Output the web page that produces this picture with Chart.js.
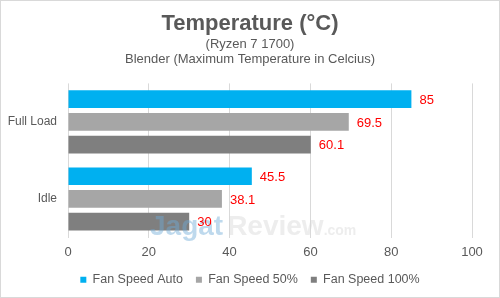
<!DOCTYPE html>
<html><head><meta charset="utf-8">
<script src="https://cdn.jsdelivr.net/npm/chart.js@4/dist/chart.umd.min.js"></script>
<style>html,body{margin:0;padding:0;background:#fff}#w{width:500px;height:298px;position:relative}</style>
</head><body><div id="w"><canvas id="c" width="500" height="298"></canvas></div>
<script>
const categories = ["Full Load", "Idle"];
const seriesNames = ["Fan Speed Auto", "Fan Speed 50%", "Fan Speed 100%"];
const fanAuto = [85, 45.5];
const fan50 = [69.5, 38.1];
const fan100 = [60.1, 30];
const xTicks = [0, 20, 40, 60, 80, 100];
const colors = ["#00B0F0", "#A6A6A6", "#7F7F7F"];
const FONT = "'Liberation Sans', Arial, sans-serif";
const TXT = "#595959";

const frame = {
  id: 'frame',
  beforeDraw(chart) {
    const ctx = chart.ctx;
    ctx.save();
    ctx.fillStyle = '#fff';
    ctx.fillRect(0, 0, chart.width, chart.height);
    ctx.strokeStyle = '#d9d9d9';
    ctx.lineWidth = 1;
    ctx.strokeRect(0.5, 0.5, chart.width - 1, chart.height - 1);
    ctx.restore();
  }
};
const watermark = {
  id: 'watermark',
  afterDatasetsDraw(chart) {
    const ctx = chart.ctx;
    ctx.save();
    ctx.font = "bold 28px " + FONT;
    ctx.textBaseline = 'alphabetic';
    ctx.fillStyle = 'rgba(110,170,215,0.45)';
    ctx.fillText('Jagat', 150, 235);
    const w = ctx.measureText('Jagat').width + 4;
    ctx.fillStyle = 'rgba(215,215,215,0.45)';
    ctx.fillText('Review', 150 + w, 235);
    const w2 = ctx.measureText('Review').width;
    ctx.font = "bold 14px " + FONT;
    ctx.fillText('.com', 150 + w + w2, 235);
    ctx.restore();
  }
};
const valueLabels = {
  id: 'valueLabels',
  afterDatasetsDraw(chart) {
    const ctx = chart.ctx;
    ctx.save();
    ctx.font = "13px " + FONT;
    ctx.fillStyle = '#FF0000';
    ctx.textBaseline = 'middle';
    ctx.textAlign = 'left';
    chart.data.datasets.forEach((ds, i) => {
      chart.getDatasetMeta(i).data.forEach((bar, j) => {
        ctx.fillText(String(ds.data[j]), bar.x + 8, bar.y + 1);
      });
    });
    ctx.restore();
  }
};

new Chart(document.getElementById('c'), {
  type: 'bar',
  data: {
    labels: categories,
    datasets: [
      { label: seriesNames[0], data: fanAuto, backgroundColor: colors[0] },
      { label: seriesNames[1], data: fan50, backgroundColor: colors[1] },
      { label: seriesNames[2], data: fan100, backgroundColor: colors[2] }
    ]
  },
  options: {
    indexAxis: 'y',
    responsive: false,
    animation: false,
    layout: { padding: { left: 0, right: 0, top: 0, bottom: 2 } },
    datasets: { bar: { categoryPercentage: 0.885, barPercentage: 0.78 } },
    scales: {
      x: {
        min: 0, max: 100,
        afterBuildTicks(scale) { scale.ticks = xTicks.map(v => ({ value: v })); },
        afterFit(scale) { scale.height = 23; },
        grid: { color: '#d9d9d9', drawTicks: false },
        border: { display: false },
        ticks: { color: TXT, font: { family: FONT, size: 13 }, padding: 7 }
      },
      y: {
        afterFit(scale) { scale.width = 68; },
        grid: { display: false, drawTicks: false },
        border: { display: false },
        ticks: { color: TXT, font: { family: FONT, size: 12 }, padding: 11 }
      },
      yRight: {
        type: 'category', axis: 'y', position: 'right',
        afterFit(scale) { scale.width = 28; },
        grid: { display: false, drawTicks: false },
        border: { display: false },
        ticks: { display: false }
      }
    },
    plugins: {
      title: {
        display: true, text: 'Temperature (°C)', color: TXT,
        font: { family: FONT, size: 22, weight: 'bold' },
        padding: { top: 11, bottom: 0 }
      },
      subtitle: {
        display: true, text: ['(Ryzen 7 1700)', 'Blender (Maximum Temperature in Celcius)'],
        color: TXT, font: { family: FONT, size: 13, lineHeight: 1.154 },
        padding: { top: 0, bottom: 16 }
      },
      legend: {
        position: 'bottom',
        labels: { color: TXT, font: { family: FONT, size: 12.5 }, boxWidth: 6, boxHeight: 6, padding: 13 }
      },
      tooltip: { enabled: false }
    }
  },
  plugins: [frame, watermark, valueLabels]
});
</script></body></html>
